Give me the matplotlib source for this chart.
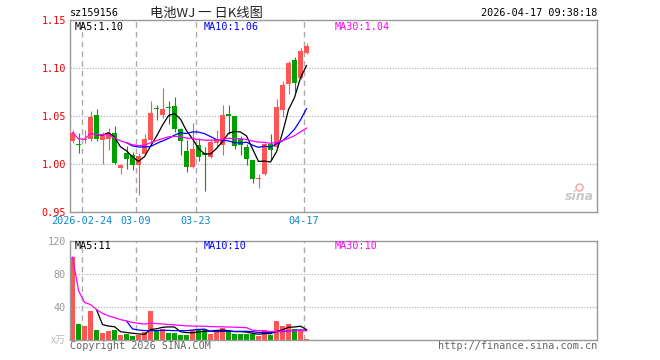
import matplotlib
matplotlib.use('Agg')
import matplotlib.pyplot as plt
import numpy as np
import pandas as pd

plt.rcParams['font.family'] = ['DejaVu Sans Mono']

# ---- data ----
dates = ['2026-02-12', '2026-02-13', '2026-02-24', '2026-02-25', '2026-02-26', '2026-02-27',
         '2026-03-02', '2026-03-03', '2026-03-04', '2026-03-05', '2026-03-06', '2026-03-09',
         '2026-03-10', '2026-03-11', '2026-03-12', '2026-03-13', '2026-03-16', '2026-03-17',
         '2026-03-18', '2026-03-19', '2026-03-20', '2026-03-23', '2026-03-24', '2026-03-25',
         '2026-03-26', '2026-03-27', '2026-03-30', '2026-03-31', '2026-04-01', '2026-04-02',
         '2026-04-03', '2026-04-07', '2026-04-08', '2026-04-09', '2026-04-10', '2026-04-13',
         '2026-04-14', '2026-04-15', '2026-04-16', '2026-04-17']

opens = [1.0243, 1.0205, 1.0245, 1.0260, 1.0508, 1.0253, 1.0264, 1.0326, 0.9962, 1.0115,
         1.0098, 0.9985, 1.0100, 1.0245, 1.0578, 1.0510, 1.0585, 1.0604, 1.0361, 1.0135,
         0.9970, 1.0198, 1.0110, 1.0076, 1.0220, 1.0198, 1.0515, 1.0503, 1.0262, 1.0180,
         1.0042, 0.9840, 0.9896, 1.0210, 1.0180, 1.0560, 1.0833, 1.1080, 1.0900, 1.1160]
highs = [1.0350, 1.0326, 1.0357, 1.0556, 1.0573, 1.0330, 1.0370, 1.0396, 1.0000, 1.0190,
         1.0120, 1.0115, 1.0310, 1.0660, 1.0610, 1.0790, 1.0660, 1.0700, 1.0380, 1.0250,
         1.0430, 1.0270, 1.0180, 1.0245, 1.0350, 1.0610, 1.0610, 1.0503, 1.0290, 1.0210,
         1.0042, 0.9900, 1.0220, 1.0310, 1.0680, 1.0865, 1.1070, 1.1110, 1.1210, 1.1260]
lows = [1.0216, 1.0118, 1.0216, 1.0236, 1.0236, 1.0000, 1.0146, 0.9995, 0.9900, 0.9953,
        0.9934, 0.9680, 1.0090, 1.0220, 1.0460, 1.0480, 1.0420, 1.0337, 1.0094, 0.9920,
        0.9960, 1.0030, 0.9720, 1.0066, 1.0170, 1.0094, 1.0310, 1.0153, 1.0094, 0.9990,
        0.9800, 0.9750, 0.9890, 1.0045, 1.0170, 1.0490, 1.0730, 1.0753, 1.0890, 1.1143]
closes = [1.0326, 1.0200, 1.0250, 1.0493, 1.0260, 1.0305, 1.0323, 1.0014, 0.9993, 1.0052,
          0.9993, 1.0085, 1.0260, 1.0535, 1.0572, 1.0575, 1.0580, 1.0365, 1.0243, 0.9972,
          1.0155, 1.0068, 1.0094, 1.0233, 1.0260, 1.0510, 1.0505, 1.0188, 1.0203, 1.0057,
          0.9840, 0.9845, 1.0210, 1.0150, 1.0593, 1.0823, 1.1055, 1.0840, 1.1180, 1.1230]
volumes = [100, 19, 16, 35, 12, 8.5, 10, 12, 5, 7, 4, 6, 9, 35, 11, 13, 8.5, 8.5, 6, 6,
           12, 13, 13, 7, 10, 14, 10, 7, 7, 7, 7, 4, 11, 6, 22, 16, 19, 13, 11, 1]

date_ticks = ['2026-02-24', '2026-03-09', '2026-03-23', '2026-04-17']
date_tick_labels = ['2026-02-24', '03-09', '03-23', '04-17']
price_ticks = [0.95, 1.00, 1.05, 1.10, 1.15]
vol_ticks = [40, 80, 120]
price_ma_text = ['MA5:1.10', 'MA10:1.06', 'MA30:1.04']
vol_ma_text = ['MA5:11', 'MA10:10', 'MA30:10']

RED = '#ff5555'
GREEN = '#00a000'
GRID = '#aaaaaa'
SPINE = '#999999'
MA_COLORS = ['#000000', '#0000ff', '#ff00ff']
FS = 7.3

df = pd.DataFrame({'open': opens, 'high': highs, 'low': lows, 'close': closes, 'vol': volumes})
x = np.arange(len(df))
up = df['close'] >= df['open']
colors = [RED if u else GREEN for u in up]

fig = plt.figure(figsize=(6.6, 3.6), dpi=100)
W, H = 660.0, 360.0
ax = fig.add_axes([70 / W, 1 - 212 / H, 527 / W, 192 / H])
axv = fig.add_axes([70 / W, 1 - 339.5 / H, 527 / W, 98.8 / H])

xmin, xmax = -0.42, 87.42
for a in (ax, axv):
    a.set_xlim(xmin, xmax)
    for s in a.spines.values():
        s.set_color(SPINE)
        s.set_linewidth(1)
    a.set_xticks([])
    a.tick_params(axis='y', length=0, pad=3)
    # dashed date lines
    for d in date_ticks:
        a.axvline(dates.index(d) - 0.4, color=GRID, lw=1, ls=(0, (4, 3)), zorder=0)

# ---- price panel ----
ax.set_ylim(0.95, 1.15)
for p in [1.00, 1.05, 1.10]:
    ax.axhline(p, color=GRID, lw=0.8, ls=(0, (1, 1.5)), zorder=0)
ax.set_yticks(price_ticks)
ax.set_yticklabels(['%.2f' % p for p in price_ticks], fontsize=FS, color='#ee0000')

body_bottom = np.minimum(df['open'], df['close'])
body_h = np.maximum((df['close'] - df['open']).abs(), 0.0011)
ax.vlines(x, df['low'], df['high'], colors=colors, lw=0.8, zorder=2)
ax.bar(x, body_h, bottom=body_bottom, width=0.8, color=colors, linewidth=0, zorder=3)

for w, c in zip([5, 10, 30], MA_COLORS):
    mp = w if w < 30 else 1
    ma = df['close'].rolling(w, min_periods=mp).mean()
    ax.plot(x, ma, color=c, lw=0.9, zorder=4)

for t, c, xp in zip(price_ma_text, MA_COLORS, [75, 204, 335]):
    fig.text(xp / W, 1 - 27 / H, t, color=c, fontsize=FS, va='center', ha='left')

for d, lab in zip(date_ticks, date_tick_labels):
    ax.text(dates.index(d) - 0.4, -9.5 / 192, lab, color='#0e86d4', fontsize=FS,
            ha='center', va='center', transform=ax.get_xaxis_transform())

# sina mark
ax.text(0.995, 0.08, 'sina', transform=ax.transAxes, ha='right', va='center',
        fontsize=9, style='italic', fontweight='bold', color='#c8c8c8',
        family='DejaVu Sans')
ax.plot([0.965], [0.13], 'o', transform=ax.transAxes, ms=5, mfc='none',
        mec='#f4a0a0', mew=1)

# ---- volume panel ----
axv.set_ylim(0, 120)
for v in [40, 80]:
    axv.axhline(v, color=GRID, lw=0.8, ls=(0, (1, 1.5)), zorder=0)
axv.set_yticks(vol_ticks)
axv.set_yticklabels([str(v) for v in vol_ticks], fontsize=FS, color=SPINE)
axv.bar(x, df['vol'], width=0.8, color=colors, linewidth=0, zorder=2)
for w, c in zip([5, 10, 30], MA_COLORS):
    mp = w if w < 30 else 1
    ma = df['vol'].rolling(w, min_periods=mp).mean()
    axv.plot(x, ma, color=c, lw=0.9, zorder=3)

for t, c, xp in zip(vol_ma_text, MA_COLORS, [75, 204, 335]):
    fig.text(xp / W, 1 - 246 / H, t, color=c, fontsize=FS, va='center', ha='left')

fig.text(66 / W, 1 - 340 / H, 'x万', color='#bbbbbb', fontsize=FS, ha='right', va='center',
         family=['Noto Sans CJK SC', 'DejaVu Sans Mono'])

# ---- header / footer ----
fig.text(70 / W, 1 - 13 / H, 'sz159156', fontsize=FS, ha='left', va='center', color='#000000')
fig.text(206 / W, 1 - 13 / H, '电池WJ 一 日K线图', fontsize=9.5, ha='center', va='center',
         family=['Noto Sans CJK SC', 'DejaVu Sans Mono'], color='#222222')
fig.text(597 / W, 1 - 13 / H, '2026-04-17 09:38:18', fontsize=FS, ha='right', va='center',
         color='#000000')
fig.text(70 / W, 1 - 346 / H, 'Copyright 2026 SINA.COM', fontsize=FS, ha='left',
         va='center', color='#666666')
fig.text(597 / W, 1 - 346 / H, 'http://finance.sina.com.cn', fontsize=FS, ha='right',
         va='center', color='#666666')

fig.savefig('out.png', dpi=100, facecolor='white')
